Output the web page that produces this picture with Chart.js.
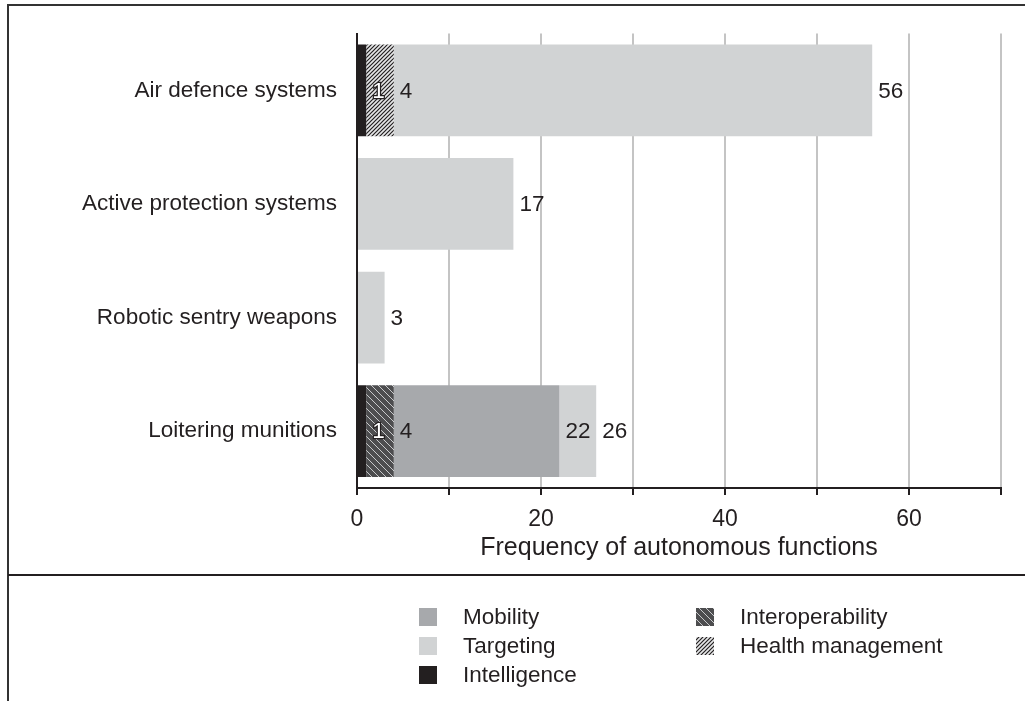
<!DOCTYPE html>
<html>
<head>
<meta charset="utf-8">
<script src="https://cdn.jsdelivr.net/npm/chart.js@4"></script>
<style>
  html, body { margin: 0; padding: 0; background: #fff; }
  canvas { display: block; }
</style>
</head>
<body>
<canvas id="grafico" width="1025" height="701"></canvas>
<script>
// Dados do gráfico
const categorias = ['Air defence systems', 'Active protection systems', 'Robotic sentry weapons', 'Loitering munitions'];
const intelligence = [1, 0, 0, 1];
const healthManagement = [3, 0, 0, 0];
const interoperability = [0, 0, 0, 3];
const mobility = [0, 0, 0, 18];
const targeting = [52, 17, 3, 4];
const xTicksComRotulo = [0, 20, 40, 60];

const escuro = '#231f20';
const fonte = 'Liberation Sans, Arial, sans-serif';

// Padrões de hachura
function hachura(tam, fundo, linha, largura, barra) {
    const c = document.createElement('canvas');
    c.width = tam; c.height = tam;
    const g = c.getContext('2d');
    g.fillStyle = fundo;
    g.fillRect(0, 0, tam, tam);
    g.strokeStyle = linha;
    g.lineWidth = largura;
    g.beginPath();
    if (barra === '/') {
        g.moveTo(0, tam); g.lineTo(tam, 0);
        g.moveTo(-1, 1); g.lineTo(1, -1);
        g.moveTo(tam - 1, tam + 1); g.lineTo(tam + 1, tam - 1);
    } else {
        g.moveTo(0, 0); g.lineTo(tam, tam);
        g.moveTo(tam - 1, -1); g.lineTo(tam + 1, 1);
        g.moveTo(-1, tam - 1); g.lineTo(1, tam + 1);
    }
    g.stroke();
    return g.createPattern(c, 'repeat');
}

const padraoHealth = hachura(4, '#e6e7e8', escuro, 1.2, '/');
const padraoInterop = hachura(7, '#4d4d4f', '#c8c9cb', 1, '\\');

// Moldura e linha separadora
const moldura = {
    id: 'moldura',
    afterDraw(chart) {
        const ctx = chart.ctx;
        ctx.save();
        ctx.strokeStyle = '#333333';
        ctx.lineWidth = 2;
        ctx.beginPath();
        ctx.moveTo(1025, 5); ctx.lineTo(8, 5); ctx.lineTo(8, 701);
        ctx.stroke();
        ctx.strokeStyle = escuro;
        ctx.beginPath();
        ctx.moveTo(8, 575); ctx.lineTo(1025, 575);
        ctx.stroke();
        ctx.restore();
    }
};

// Rótulos com valores acumulados
const rotulos = {
    id: 'rotulos',
    afterDatasetsDraw(chart) {
        const ctx = chart.ctx;
        const soma = categorias.map(() => 0);
        ctx.save();
        ctx.font = '22.5px ' + fonte;
        ctx.textAlign = 'left';
        ctx.textBaseline = 'middle';
        chart.data.datasets.forEach((ds, d) => {
            const meta = chart.getDatasetMeta(d);
            ds.data.forEach((v, i) => {
                if (!v) return;
                soma[i] += v;
                const bar = meta.data[i];
                const x = bar.x + 6, y = bar.y + 1;
                if (ds.label === 'Intelligence') {
                    ctx.lineWidth = 2.5;
                    ctx.strokeStyle = escuro;
                    ctx.strokeText(String(soma[i]), x, y);
                    ctx.fillStyle = '#ffffff';
                } else {
                    ctx.fillStyle = escuro;
                }
                ctx.fillText(String(soma[i]), x, y);
            });
        });
        ctx.restore();
    }
};

// Legenda em duas colunas
const legenda = {
    id: 'legenda',
    afterDraw(chart) {
        const ctx = chart.ctx;
        const cols = [
            { x: 419, itens: ['Mobility', 'Targeting', 'Intelligence'] },
            { x: 696, itens: ['Interoperability', 'Health management'] }
        ];
        ctx.save();
        ctx.font = '22.5px ' + fonte;
        ctx.textBaseline = 'middle';
        ctx.textAlign = 'left';
        cols.forEach(col => {
            col.itens.forEach((nome, r) => {
                const ds = chart.data.datasets.find(d => d.label === nome);
                const y = 617 + r * 29;
                ctx.fillStyle = ds.backgroundColor;
                ctx.fillRect(col.x, y - 9, 18, 18);
                ctx.fillStyle = escuro;
                ctx.fillText(nome, col.x + 44, y + 1);
            });
        });
        ctx.restore();
    }
};

Chart.defaults.font.family = fonte;
Chart.defaults.font.size = 22.5;
Chart.defaults.color = escuro;

const ctx = document.getElementById('grafico').getContext('2d');
new Chart(ctx, {
    type: 'bar',
    data: {
        labels: categorias,
        datasets: [
            { label: 'Intelligence', data: intelligence, backgroundColor: escuro },
            { label: 'Health management', data: healthManagement, backgroundColor: padraoHealth },
            { label: 'Interoperability', data: interoperability, backgroundColor: padraoInterop },
            { label: 'Mobility', data: mobility, backgroundColor: '#a7a9ac' },
            { label: 'Targeting', data: targeting, backgroundColor: '#d1d3d4' }
        ]
    },
    options: {
        indexAxis: 'y',
        responsive: false,
        animation: false,
        barPercentage: 0.807,
        categoryPercentage: 1,
        layout: { padding: { left: 0, top: 33, right: 24, bottom: 126 } },
        plugins: {
            legend: { display: false },
            tooltip: { enabled: false }
        },
        scales: {
            x: {
                stacked: true,
                min: 0,
                max: 70,
                ticks: {
                    stepSize: 10,
                    padding: 11,
                    color: escuro,
                    font: { size: 23 },
                    callback: v => xTicksComRotulo.includes(v) ? String(v) : ''
                },
                grid: { color: '#c4c4c4', lineWidth: 2, tickColor: escuro, tickLength: 7 },
                border: { display: true, color: escuro, width: 2 },
                title: {
                    display: true,
                    text: 'Frequency of autonomous functions',
                    color: escuro,
                    font: { size: 25 },
                    padding: { top: 0, bottom: 12 }
                },
                afterFit: s => { s.height = 87; }
            },
            y: {
                stacked: true,
                ticks: { padding: 20, color: escuro },
                grid: { display: false, drawTicks: false },
                border: { display: true, color: escuro, width: 2 },
                afterFit: s => { s.width = 357; }
            }
        }
    },
    plugins: [rotulos, moldura, legenda]
});
</script>
</body>
</html>
